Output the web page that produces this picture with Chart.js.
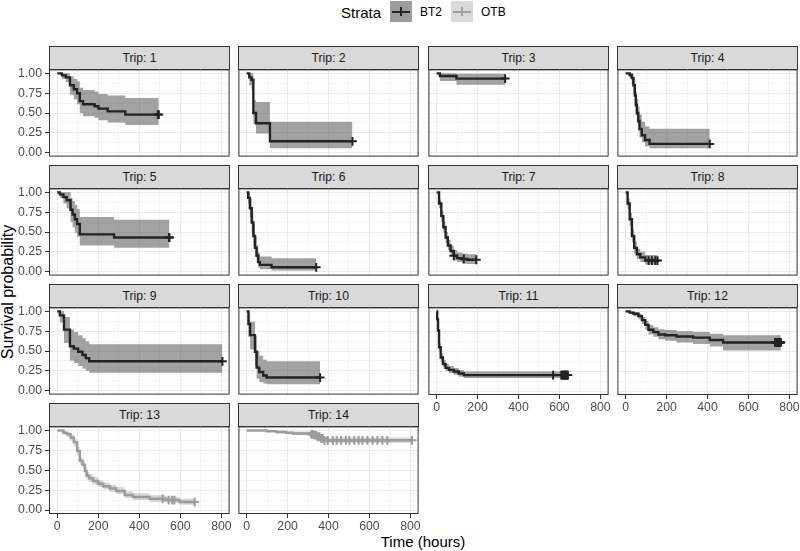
<!DOCTYPE html>
<html>
<head>
<meta charset="utf-8">
<script src="https://cdn.jsdelivr.net/npm/chart.js@4.4.1/dist/chart.umd.min.js"></script>
<style>
  body { margin: 0; background: #fff; font-family: 'Liberation Sans', Arial, sans-serif; }
  #wrap { position: relative; width: 800px; height: 551px; overflow: hidden; background: #fff; }
  #wrap canvas { position: absolute; }
  .strip { position: absolute; box-sizing: border-box; background: #d9d9d9; border: 1px solid #333;
    font-size: 12.2px; color: #1a1a1a; text-align: center; }
  .txt { position: absolute; white-space: nowrap; color: #000; }
  .key { position: absolute; top: 1px; width: 22px; height: 21px; }
  .key i { position: absolute; display: block; }
</style>
</head>
<body>
<div id="wrap">
  <div class="txt" style="left:341px;top:4px;font-size:15px;line-height:17px;">Strata</div>
  <div class="key" style="left:390px;background:#9c9c9c;">
    <i style="left:2px;top:9.5px;width:18px;height:2.4px;background:#262626;"></i>
    <i style="left:10px;top:6px;width:2px;height:9px;background:#262626;"></i>
  </div>
  <div class="txt" style="left:420px;top:5px;font-size:12px;line-height:15px;">BT2</div>
  <div class="key" style="left:451px;background:#dadada;">
    <i style="left:2px;top:9.5px;width:18px;height:2.4px;background:#a0a0a0;"></i>
    <i style="left:10px;top:6px;width:2px;height:9px;background:#a0a0a0;"></i>
  </div>
  <div class="txt" style="left:481px;top:5px;font-size:12px;line-height:15px;">OTB</div>
  <div class="txt" style="left:423px;top:541px;font-size:15px;transform:translate(-50%,-50%);">Time (hours)</div>
  <div class="txt" style="left:8px;top:292px;font-size:16px;transform:translate(-50%,-50%) rotate(-90deg);">Survival probability</div>
</div>
<script>
var tripLabels = ['Trip: 1', 'Trip: 2', 'Trip: 3', 'Trip: 4', 'Trip: 5', 'Trip: 6', 'Trip: 7',
  'Trip: 8', 'Trip: 9', 'Trip: 10', 'Trip: 11', 'Trip: 12', 'Trip: 13', 'Trip: 14'];
var tripStrata = ['BT2', 'BT2', 'BT2', 'BT2', 'BT2', 'BT2', 'BT2',
  'BT2', 'BT2', 'BT2', 'BT2', 'BT2', 'OTB', 'OTB'];

// event times (hours) for each trip
var survTimes = [
  [0, 23, 42, 62, 81, 97, 110, 126, 182, 201, 246, 332, 495],
  [0, 13, 24, 33, 46, 114, 517],
  [0, 16, 97, 335],
  [0, 20, 30, 38, 45, 50, 55, 62, 68, 79, 95, 117, 411],
  [0, 13, 30, 46, 65, 75, 86, 97, 110, 277, 547],
  [0, 8, 16, 25, 33, 41, 49, 57, 65, 122, 340],
  [0, 12, 23, 33, 44, 55, 68, 84, 100, 125, 149, 194],
  [0, 10, 20, 31, 42, 55, 72, 96, 156],
  [0, 13, 33, 62, 81, 102, 123, 139, 156, 805],
  [0, 9, 17, 41, 49, 62, 81, 98, 359],
  [0, 3, 7, 12, 20, 31, 44, 60, 84, 108, 133, 641],
  [0, 20, 39, 63, 80, 96, 112, 136, 160, 193, 249, 330, 411, 476, 758],
  [0, 30, 46, 65, 81, 97, 110, 123, 135, 143, 156, 175, 199, 224, 256, 288, 329, 369, 450, 530, 595, 670],
  [0, 97, 146, 194, 227, 308, 332, 348, 364, 380, 808]
];

var survProb = [
  [1, .975, .95, .85, .80, .75, .65, .61, .585, .555, .52, .48, .48],
  [1, .95, .92, .50, .37, .143, .143],
  [1, .967, .934, .934],
  [1, .98, .94, .85, .72, .60, .50, .40, .30, .22, .16, .11, .11],
  [1, .975, .94, .90, .78, .72, .66, .60, .47, .43, .43],
  [1, .93, .80, .62, .45, .30, .20, .12, .085, .055, .055],
  [1, .86, .70, .56, .43, .33, .26, .20, .17, .16, .15, .15],
  [1, .86, .66, .45, .30, .22, .18, .14, .14],
  [1, .95, .77, .56, .53, .49, .45, .41, .37, .37],
  [1, .84, .70, .49, .29, .235, .19, .165, .165],
  [1, .90, .76, .55, .42, .34, .29, .265, .245, .22, .20, .20],
  [1, .985, .97, .94, .89, .83, .77, .74, .71, .70, .685, .67, .64, .61, .61],
  [1, .97, .95, .91, .85, .74, .62, .57, .49, .43, .40, .365, .33, .30, .27, .24, .19, .165, .14, .125, .10, .10],
  [1, .99, .98, .97, .96, .95, .94, .92, .90, .875, .875]
];

var survUpper = [
  [1, 1, 1, .96, .93, .90, .82, .79, .77, .74, .72, .69, .69],
  [1, 1, 1, .66, .64, .39, .39],
  [1, 1, .995, .995],
  [1, 1, 1, .96, .87, .77, .68, .58, .48, .39, .33, .30, .30],
  [1, 1, 1, 1, .93, .89, .84, .79, .69, .655, .655],
  [1, 1, .92, .76, .60, .45, .34, .24, .19, .17, .17],
  [1, .91, .77, .63, .50, .40, .33, .27, .24, .23, .22, .22],
  [1, .92, .74, .53, .38, .29, .25, .21, .21],
  [1, 1, .93, .77, .74, .70, .66, .62, .585, .585],
  [1, .97, .87, .69, .50, .44, .39, .37, .37],
  [1, .94, .81, .60, .47, .39, .34, .315, .29, .265, .245, .245],
  [1, 1, .99, .97, .93, .88, .83, .80, .775, .765, .75, .74, .72, .70, .70],
  [1, .99, .98, .95, .89, .79, .67, .62, .54, .48, .45, .41, .375, .345, .315, .285, .235, .21, .185, .17, .145, .145],
  [1, 1, 1, .99, .985, .975, .965, .95, .93, .91, .91]
];

var survLower = [
  [1, .93, .89, .73, .67, .61, .50, .46, .44, .41, .38, .35, .35],
  [1, .85, .80, .36, .24, .055, .055],
  [1, .905, .855, .855],
  [1, .94, .87, .75, .58, .47, .37, .27, .19, .13, .08, .055, .055],
  [1, .93, .86, .80, .63, .56, .49, .44, .33, .30, .30],
  [1, .86, .68, .49, .32, .19, .11, .05, .03, .015, .015],
  [1, .80, .63, .49, .36, .27, .20, .14, .12, .10, .095, .095],
  [1, .79, .58, .37, .23, .16, .12, .09, .09],
  [1, .86, .60, .38, .35, .31, .28, .25, .225, .225],
  [1, .68, .52, .31, .15, .11, .09, .08, .08],
  [1, .86, .71, .50, .37, .30, .25, .225, .205, .18, .165, .165],
  [1, .97, .94, .90, .84, .77, .71, .68, .65, .63, .61, .59, .56, .51, .51],
  [1, .95, .92, .87, .80, .69, .57, .52, .44, .38, .35, .32, .29, .26, .23, .20, .15, .125, .10, .09, .065, .065],
  [1, .98, .96, .95, .94, .925, .91, .89, .865, .84, .84]
];

// censored observations (hours)
var censorTimes = [
  [490, 495],
  [517],
  [335],
  [411],
  [545, 547],
  [340],
  [84, 133, 194],
  [112, 128, 145, 156],
  [805],
  [359],
  [569, 609, 612, 615, 618, 621, 624, 627, 630, 633, 636, 639, 641],
  [730, 733, 736, 739, 742, 745, 748, 751, 754, 756, 758],
  [514, 543, 560, 571, 670],
  [316, 324, 332, 340, 348, 356, 364, 372, 380, 396, 421, 440, 461, 485, 502, 526, 547, 566, 590, 615, 639, 663, 687, 808]
];

var xTicks = [0, 100, 200, 300, 400, 500, 600, 700, 800];
var yTicks = [0, 0.125, 0.25, 0.375, 0.5, 0.625, 0.75, 0.875, 1];

var COL_LEFT = [49, 238, 428, 617];
var ROW_TOP = [46, 165, 284, 403];
var PANEL_W = 181, STRIP_H = 23, PANEL_H = 88, M = 6;

var styles = {
  BT2: { line: '#232323', band: 'rgba(70,70,70,0.5)', width: 2.4 },
  OTB: { line: '#9c9c9c', band: 'rgba(150,150,150,0.38)', width: 2.5 }
};

Chart.defaults.font.family = "'Liberation Sans', Arial, sans-serif";

var panelBorder = {
  id: 'panelBorder',
  afterDraw: function (chart) {
    var a = chart.chartArea, ctx = chart.ctx;
    ctx.save();
    ctx.strokeStyle = '#333333';
    ctx.lineWidth = 1;
    ctx.strokeRect(a.left + 0.5, a.top + 0.5, a.width - 1, a.height - 1);
    ctx.restore();
  }
};

function survAt(i, t) {
  var v = 1;
  survTimes[i].forEach(function (s, j) { if (s <= t) v = survProb[i][j]; });
  return v;
}

function gridCol(c) { return c.index % 2 === 0 ? '#ebebeb' : '#f4f4f4'; }
function tickCol(c) { return c.index % 2 === 0 ? '#333333' : 'rgba(0,0,0,0)'; }

function buildPanel(i) {
  var wrap = document.getElementById('wrap');
  var col = i % 4, row = Math.floor(i / 4);
  var showY = col === 0;
  var showX = row === 3 || i === 10 || i === 11;
  var yW = showY ? 34 : 0, xH = showX ? 20 : 0;
  var left = COL_LEFT[col], top = ROW_TOP[row] + STRIP_H;

  var strip = document.createElement('div');
  strip.className = 'strip';
  strip.style.left = left + 'px';
  strip.style.top = ROW_TOP[row] + 'px';
  strip.style.width = PANEL_W + 'px';
  strip.style.height = (STRIP_H + 1) + 'px';
  strip.style.lineHeight = (STRIP_H - 1) + 'px';
  strip.textContent = tripLabels[i];
  wrap.appendChild(strip);

  var cv = document.createElement('canvas');
  cv.width = PANEL_W + yW + 2 * M;
  cv.height = PANEL_H + xH + 2 * M;
  cv.style.left = (left - yW - M) + 'px';
  cv.style.top = (top - M) + 'px';
  wrap.appendChild(cv);

  var st = styles[tripStrata[i]];
  function pts(arr) {
    return survTimes[i].map(function (t, j) { return { x: t, y: arr[i][j] }; });
  }
  var censorPts = censorTimes[i].map(function (t) { return { x: t, y: survAt(i, t) }; });

  new Chart(cv, {
    type: 'line',
    data: {
      datasets: [
        { data: censorPts, showLine: false, pointStyle: 'cross', pointRadius: 4.4,
          pointBorderWidth: 2, pointBorderColor: st.line, pointBackgroundColor: st.line },
        { data: pts(survProb), borderColor: st.line, borderWidth: st.width, stepped: true,
          pointRadius: 0, fill: false },
        { data: pts(survUpper), borderColor: 'transparent', borderWidth: 0, stepped: true,
          pointRadius: 0, fill: '+1', backgroundColor: st.band },
        { data: pts(survLower), borderColor: 'transparent', borderWidth: 0, stepped: true,
          pointRadius: 0, fill: false }
      ]
    },
    options: {
      responsive: false,
      animation: false,
      devicePixelRatio: 1,
      events: [],
      layout: { padding: M },
      plugins: { legend: { display: false }, tooltip: { enabled: false } },
      scales: {
        x: {
          type: 'linear', min: -40, max: 840,
          afterBuildTicks: function (s) { s.ticks = xTicks.map(function (v) { return { value: v }; }); },
          afterFit: function (s) { s.height = xH; s.paddingLeft = 0; s.paddingRight = 0; },
          border: { display: false },
          grid: { color: gridCol, lineWidth: 1, drawTicks: showX, tickLength: 4, tickColor: tickCol, tickWidth: 1 },
          ticks: {
            display: showX, padding: 1, maxRotation: 0, autoSkip: false, color: '#4d4d4d',
            font: { size: 12.3 },
            callback: function (v) { return v % 200 === 0 ? String(v) : ''; }
          }
        },
        y: {
          type: 'linear', min: -0.05, max: 1.05,
          afterBuildTicks: function (s) { s.ticks = yTicks.map(function (v) { return { value: v }; }); },
          afterFit: function (s) { s.width = yW; s.paddingTop = 0; s.paddingBottom = 0; },
          border: { display: false },
          grid: { color: gridCol, lineWidth: 1, drawTicks: showY, tickLength: 4, tickColor: tickCol, tickWidth: 1 },
          ticks: {
            display: showY, padding: 3, autoSkip: false, color: '#4d4d4d',
            font: { size: 12.3 },
            callback: function (v) { return (v * 4) % 1 === 0 ? v.toFixed(2) : ''; }
          }
        }
      }
    },
    plugins: [panelBorder]
  });
}

document.addEventListener('DOMContentLoaded', function () {
  tripLabels.forEach(function (lbl, i) { buildPanel(i); });
});
</script>
</body>
</html>
